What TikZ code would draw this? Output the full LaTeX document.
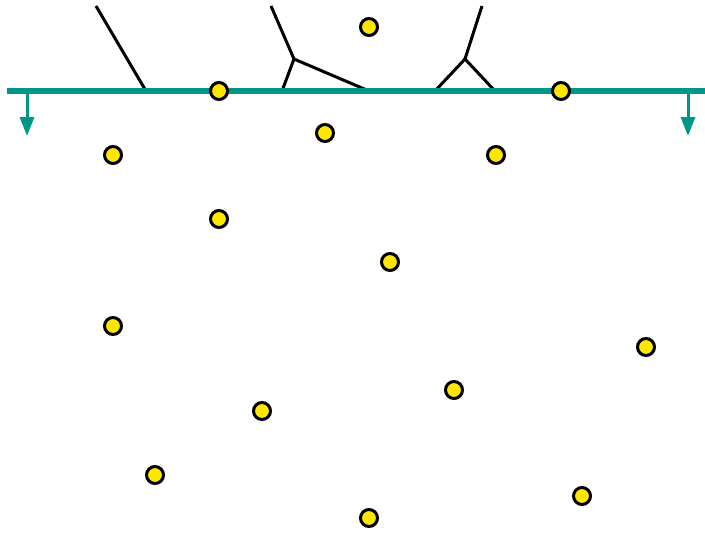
\documentclass[tikz,border=0pt]{standalone}
\usepackage{tikz}
\usetikzlibrary{arrows.meta}
\definecolor{sweepgreen}{RGB}{0,150,136}
\definecolor{siteyellow}{RGB}{255,230,0}

\begin{document}
\begin{tikzpicture}[x=1pt, y=-1pt,
    site/.style={circle, draw=black, fill=siteyellow, line width=3pt,
      minimum size=17pt, inner sep=0pt},
    edge/.style={black, line width=3pt},
    sweepline/.style={sweepgreen, line width=6pt},
    sweepdir/.style={sweepgreen, line width=3pt,
      -{Triangle[width=14pt, length=19pt]}}
    ]

    \useasboundingbox (0,0) rectangle (705,533);

    % edges traced above the sweep line
    \coordinate (t1) at (96,6);
    \coordinate (t2) at (271,6);
    \coordinate (t3) at (482,6);
    \coordinate (v1) at (294,59);
    \coordinate (v2) at (465,59);
    \coordinate (e1) at (146,91);
    \coordinate (e2) at (282,91);
    \coordinate (e3) at (369,91);
    \coordinate (e4) at (435,91);
    \coordinate (e5) at (495,91);

    \draw[edge] (t1) -- (e1);
    \draw[edge] (t2) -- (v1);
    \draw[edge] (v1) -- (e2);
    \draw[edge] (v1) -- (e3);
    \draw[edge] (t3) -- (v2);
    \draw[edge] (v2) -- (e4);
    \draw[edge] (v2) -- (e5);

    % sweep line
    \coordinate (sl) at (7,91);
    \coordinate (sr) at (705,91);
    \draw[sweepline] (sl) -- (sr);

    \coordinate (d1) at (27,91);
    \coordinate (d1e) at (27,136);
    \draw[sweepdir] (d1) -- (d1e);
    \coordinate (d2) at (688,91);
    \coordinate (d2e) at (688,136);
    \draw[sweepdir] (d2) -- (d2e);

    % sites
    \node[site] (s1) at (369,27) {};
    \node[site] (s2) at (219,91) {};
    \node[site] (s3) at (561,91) {};
    \node[site] (s4) at (325,133) {};
    \node[site] (s5) at (113,155) {};
    \node[site] (s6) at (496,155) {};
    \node[site] (s7) at (219,219) {};
    \node[site] (s8) at (390,262) {};
    \node[site] (s9) at (113,326) {};
    \node[site] (s10) at (646,347) {};
    \node[site] (s11) at (454,390) {};
    \node[site] (s12) at (262,411) {};
    \node[site] (s13) at (155,475) {};
    \node[site] (s14) at (582,496) {};
    \node[site] (s15) at (369,518) {};

\end{tikzpicture}
\end{document}
